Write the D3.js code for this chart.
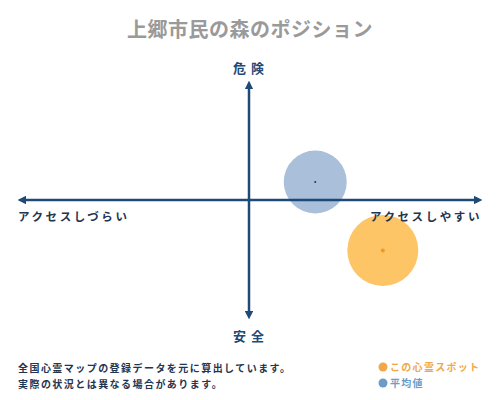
<!DOCTYPE html>
<html><head><meta charset="utf-8">
<script src="https://cdn.jsdelivr.net/npm/d3@7"></script>
<style>body{margin:0;background:#fff}svg{display:block}text{font-family:"Noto Sans CJK JP","Noto Sans",sans-serif}</style>
</head><body>
<script>
const title = "上郷市民の森のポジション";
const axisLabels = ["危 険", "安 全", "アクセスしづらい", "アクセスしやすい"];
const seriesNames = ["この心霊スポット", "平均値"];
const accessX = [5.7, 2.8];      // + = アクセスしやすい
const dangerY = [-4.2, 1.5];     // + = 危険
const sizes = [35.5, 31.5];
const notes = ["全国心霊マップの登録データを元に算出しています。", "実際の状況とは異なる場合があります。"];

const W = 500, H = 400;
const svg = d3.select("body").append("svg").attr("width", W).attr("height", H);
const x = d3.scaleLinear().domain([-10, 10]).range([17, 483]);
const y = d3.scaleLinear().domain([-10, 10]).range([320, 80]);
const navy = "#1d4a77";
const fills = ["#fdc566", "#a9bfda"];
const dots = ["#f39a1e", "#1d3557"];
const legendCol = ["#f0a848", "#6e9cc6"];

svg.append("text").attr("x", 250).attr("y", 37).attr("text-anchor", "middle")
  .attr("font-size", 20).attr("font-weight", "bold").attr("fill", "#9a9a9a").attr("letter-spacing", 0.5).text(title);

const g = svg.append("g");
g.append("circle").attr("cx", x(accessX[1])).attr("cy", y(dangerY[1])).attr("r", sizes[1]).attr("fill", fills[1]);

const defs = svg.append("defs");
defs.append("marker").attr("id", "arr").attr("viewBox", "0 0 10 10").attr("refX", 5).attr("refY", 5)
  .attr("markerWidth", 3.5).attr("markerHeight", 3.5).attr("orient", "auto-start-reverse")
  .append("path").attr("d", "M0,0L10,5L0,10z").attr("fill", navy);

svg.append("line").attr("x1", x(-10) + 5).attr("x2", x(10) - 5).attr("y1", y(0)).attr("y2", y(0))
  .attr("stroke", navy).attr("stroke-width", 2.5).attr("marker-start", "url(#arr)").attr("marker-end", "url(#arr)");
svg.append("line").attr("x1", x(0) - 1).attr("x2", x(0) - 1).attr("y1", y(10) + 5).attr("y2", y(-10) - 5)
  .attr("stroke", navy).attr("stroke-width", 2.5).attr("marker-start", "url(#arr)").attr("marker-end", "url(#arr)");

svg.append("circle").attr("cx", x(accessX[0])).attr("cy", y(dangerY[0])).attr("r", sizes[0]).attr("fill", fills[0]);

svg.append("text").attr("x", 249).attr("y", 73).attr("text-anchor", "middle").attr("font-size", 13)
  .attr("font-weight", "bold").attr("fill", navy).attr("letter-spacing", 1).text(axisLabels[0]);
svg.append("text").attr("x", 249).attr("y", 341).attr("text-anchor", "middle").attr("font-size", 13)
  .attr("font-weight", "bold").attr("fill", navy).attr("letter-spacing", 1).text(axisLabels[1]);
svg.append("text").attr("x", 18).attr("y", 221).attr("font-size", 11.5).attr("font-weight", "bold")
  .attr("fill", "#1f3550").attr("letter-spacing", 2.6).text(axisLabels[2]);
svg.append("text").attr("x", 482).attr("y", 221).attr("text-anchor", "end").attr("font-size", 11.5).attr("font-weight", "bold")
  .attr("fill", "#1f3550").attr("letter-spacing", 2.6).text(axisLabels[3]);

[0, 1].forEach(i => {
  svg.append("circle").attr("cx", x(accessX[i])).attr("cy", y(dangerY[i])).attr("r", i === 0 ? 2 : 1)
    .attr("fill", dots[i]);
});

notes.forEach((t, i) => {
  svg.append("text").attr("x", 18).attr("y", 372 + i * 16).attr("font-size", 10).attr("font-weight", "bold")
    .attr("fill", "#1f3550").attr("letter-spacing", 1.45).text(t);
});
seriesNames.forEach((t, i) => {
  svg.append("circle").attr("cx", 383).attr("cy", 367 + i * 16).attr("r", 4.5).attr("fill", legendCol[i]);
  svg.append("text").attr("x", 390).attr("y", 371 + i * 16).attr("font-size", 10).attr("font-weight", "bold")
    .attr("fill", legendCol[i]).attr("letter-spacing", 1.3).text(t);
});
</script>
</body></html>
